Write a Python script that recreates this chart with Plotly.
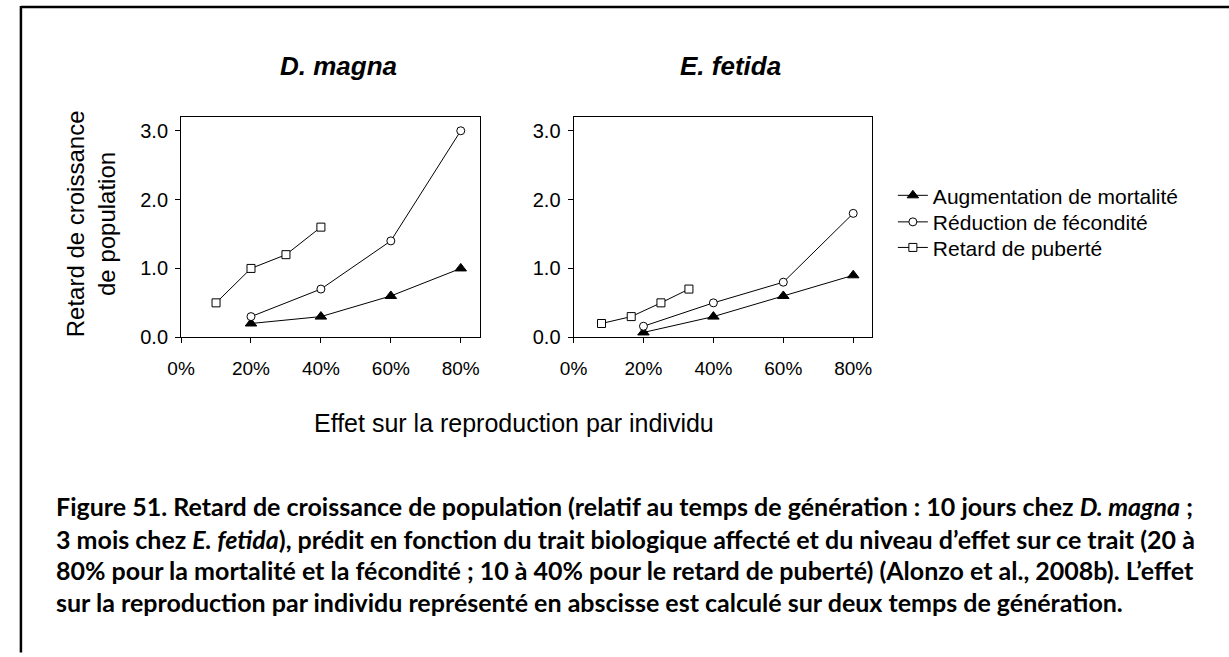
import plotly.graph_objects as go

W, H = 1229, 657

# Effect levels (fraction) and population growth delay, D. magna
dm_mort_x = [0.20, 0.40, 0.60, 0.80]
dm_mort_y = [0.20, 0.30, 0.60, 1.00]
dm_fec_x = [0.20, 0.40, 0.60, 0.80]
dm_fec_y = [0.30, 0.70, 1.40, 3.00]
dm_pub_x = [0.10, 0.20, 0.30, 0.40]
dm_pub_y = [0.50, 1.00, 1.20, 1.60]

# Same quantities, E. fetida
ef_mort_x = [0.20, 0.40, 0.60, 0.80]
ef_mort_y = [0.07, 0.30, 0.60, 0.90]
ef_fec_x = [0.20, 0.40, 0.60, 0.80]
ef_fec_y = [0.16, 0.50, 0.80, 1.80]
ef_pub_x = [0.08, 0.165, 0.25, 0.33]
ef_pub_y = [0.20, 0.30, 0.50, 0.70]

series_names = ["Augmentation de mortalité", "Réduction de fécondité", "Retard de puberté"]
x_tickvals = [0, 0.2, 0.4, 0.6, 0.8]
x_ticktext = ["0%", "20%", "40%", "60%", "80%"]
y_tickvals = [0, 1, 2, 3]
y_ticktext = ["0.0", "1.0", "2.0", "3.0"]

panel_titles = ["D. magna", "E. fetida"]
y_title_lines = ["Retard de croissance", "de population"]
x_title = "Effet sur la reproduction par individu"
caption_lines = [
    "Figure 51. Retard de croissance de population (relatif au temps de génération : 10 jours chez <i>D. magna</i> ;",
    "3 mois chez <i>E. fetida</i>), prédit en fonction du trait biologique affecté et du niveau d’effet sur ce trait (20 à",
    "80% pour la mortalité et la fécondité ; 10 à 40% pour le retard de puberté) (Alonzo et al., 2008b). L’effet",
    "sur la reproduction par individu représenté en abscisse est calculé sur deux temps de génération.",
]

FONT = "Liberation Sans, Arial, sans-serif"
styles = [
    dict(symbol="triangle-up", size=10, color="black", line=dict(color="black", width=1)),
    dict(symbol="circle", size=8, color="white", line=dict(color="black", width=1)),
    dict(symbol="square", size=8, color="white", line=dict(color="black", width=1)),
]
legend_ids = ["legend", "legend2", "legend3"]

fig = go.Figure()

panels = [
    ("x", "y", [(dm_mort_x, dm_mort_y), (dm_fec_x, dm_fec_y), (dm_pub_x, dm_pub_y)], True),
    ("x2", "y2", [(ef_mort_x, ef_mort_y), (ef_fec_x, ef_fec_y), (ef_pub_x, ef_pub_y)], False),
]
for xa, ya, data, show in panels:
    for (xs, ys), name, mk, lg in zip(data, series_names, styles, legend_ids):
        fig.add_trace(go.Scatter(
            x=xs, y=ys, xaxis=xa, yaxis=ya, name=name, mode="lines+markers",
            line=dict(color="black", width=1), marker=mk, showlegend=show, legend=lg,
        ))


def px_x(p):
    return p / W


def px_y(p):
    return 1 - p / H


axis_common = dict(
    showline=True, linecolor="black", linewidth=1, mirror=True,
    ticks="outside", ticklen=5, tickcolor="black", tickwidth=1,
    showgrid=False, zeroline=False, fixedrange=True,
)
xfont = dict(size=19, family=FONT, color="black")
yfont = dict(size=20, family=FONT, color="black")
y_dom = [px_y(343), px_y(119)]
fig.update_layout(
    xaxis=dict(domain=[px_x(169), px_x(471)], range=[0, 0.854], tickvals=x_tickvals,
               ticktext=x_ticktext, anchor="y", tickfont=xfont,
               ticklabelstandoff=9, **axis_common),
    yaxis=dict(domain=y_dom, range=[0, 3.2], tickvals=y_tickvals, ticktext=y_ticktext,
               anchor="x", tickfont=yfont, ticklabelstandoff=3, **axis_common),
    xaxis2=dict(domain=[px_x(566), px_x(868)], range=[0, 0.854], tickvals=x_tickvals,
                ticktext=x_ticktext, anchor="y2", tickfont=xfont,
                ticklabelstandoff=9, **axis_common),
    yaxis2=dict(domain=y_dom, range=[0, 3.2], tickvals=y_tickvals, ticktext=y_ticktext,
                anchor="x2", tickfont=yfont, ticklabelstandoff=3, **axis_common),
)

annotations = []
for cx, t in zip([328, 725], panel_titles):
    annotations.append(dict(x=px_x(cx), y=px_y(67), xref="paper", yref="paper",
                            text=f"<b><i>{t}</i></b>", showarrow=False,
                            xanchor="center", yanchor="middle",
                            font=dict(size=26, family=FONT, color="black")))
annotations.append(dict(x=px_x(78), y=px_y(228), xref="paper", yref="paper",
                        text="<br>".join(y_title_lines), showarrow=False, textangle=-90,
                        xanchor="center", yanchor="middle",
                        font=dict(size=24, family=FONT, color="black")))
annotations.append(dict(x=px_x(301), y=px_y(430), xref="paper", yref="paper",
                        text=x_title, showarrow=False, xanchor="left", yanchor="middle",
                        font=dict(size=25, family=FONT, color="black")))
for cy, line in zip([515, 548, 580, 612], caption_lines):
    annotations.append(dict(x=px_x(40), y=px_y(cy), xref="paper", yref="paper",
                            text=f"<b>{line}</b>", showarrow=False, xanchor="left",
                            yanchor="middle",
                            font=dict(size=25, family="Lato, sans-serif", color="black")))

# one legend box per series so the rows sit at their own heights
legend_style = dict(xanchor="left", yanchor="middle",
                    font=dict(size=21, family=FONT, color="black"),
                    bgcolor="rgba(0,0,0,0)", borderwidth=0, itemwidth=30)
legend_rows = [199, 226, 252]
legend_left = 889

fig.update_layout(
    width=W, height=H, margin=dict(l=0, r=0, t=0, b=0),
    paper_bgcolor="white", plot_bgcolor="white",
    annotations=annotations,
    showlegend=True,
    legend=dict(x=px_x(legend_left), y=px_y(legend_rows[0]), **legend_style),
    legend2=dict(x=px_x(legend_left), y=px_y(legend_rows[1]), **legend_style),
    legend3=dict(x=px_x(legend_left), y=px_y(legend_rows[2]), **legend_style),
    shapes=[
        dict(type="line", xref="paper", yref="paper", x0=px_x(7), x1=1.01, y0=px_y(7), y1=px_y(7),
             line=dict(color="black", width=2.5)),
        dict(type="line", xref="paper", yref="paper", x0=px_x(7), x1=px_x(7), y0=px_y(6), y1=-0.01,
             line=dict(color="black", width=2.5)),
    ],
)

fig.write_html("out.html", include_plotlyjs=True, config={"displayModeBar": False})
